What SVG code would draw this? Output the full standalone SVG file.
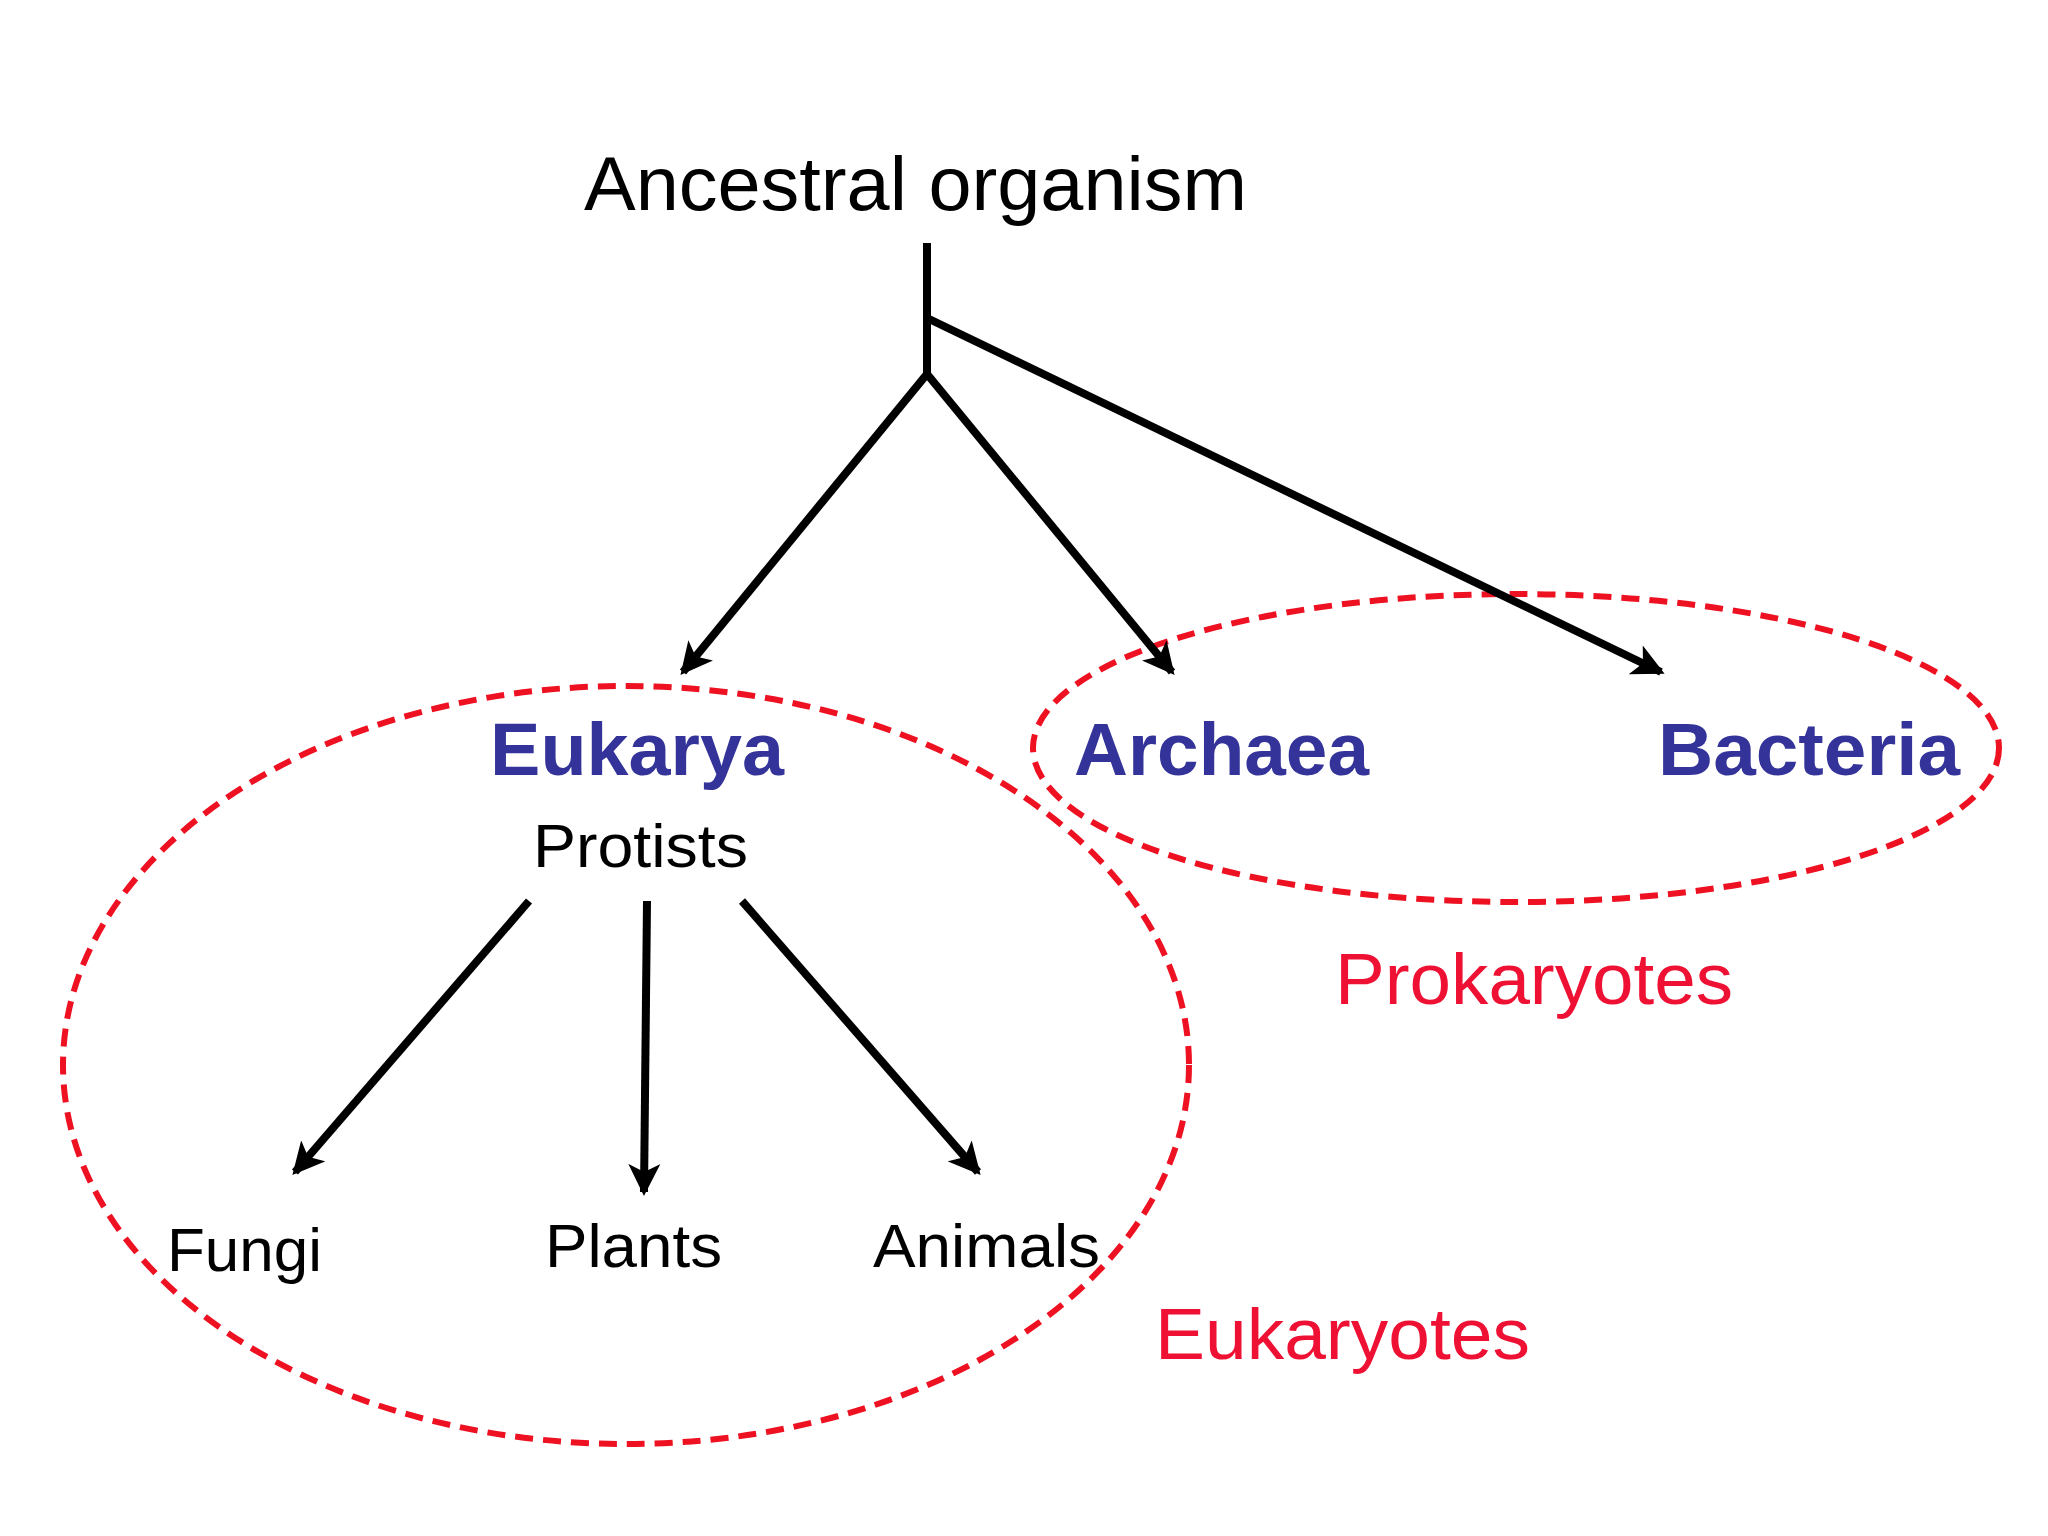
<svg xmlns="http://www.w3.org/2000/svg" width="2048" height="1536" viewBox="0 0 2048 1536">
<style>
text{font-family:"Liberation Sans",Arial,sans-serif}
.n{font-size:62px;fill:#000}
.d{font-size:74px;font-weight:bold;fill:#333399}
.r{font-size:72px;fill:#ee1133}
.c{stroke:#000;stroke-width:8;fill:none}
.e{stroke:#ee1122;stroke-width:6;stroke-dasharray:18 10;fill:none}
</style>
<defs><marker id="a" markerWidth="4" markerHeight="4" refX="3.5" refY="2" orient="auto" markerUnits="strokeWidth"><path d="M0,0 L4,2 L0,4 L1,2 z" fill="#000"/></marker></defs>
<rect width="2048" height="1536" fill="#fff"/>
<g id="groups">
<ellipse class="e" cx="626" cy="1065" rx="563" ry="379"/>
<ellipse class="e" cx="1516" cy="748" rx="483" ry="154"/>
<text class="r" x="1335" y="1004" textLength="398" lengthAdjust="spacingAndGlyphs">Prokaryotes</text>
<text class="r" x="1155" y="1359" textLength="375" lengthAdjust="spacingAndGlyphs">Eukaryotes</text>
</g>
<g id="connectors">
<path class="c" d="M927,243 V374"/>
<path class="c" d="M927,318 L1661,672" marker-end="url(#a)"/>
<path class="c" d="M927,374 L683,672" marker-end="url(#a)"/>
<path class="c" d="M927,374 L1172,672" marker-end="url(#a)"/>
<path class="c" d="M529,901 L295,1172" marker-end="url(#a)"/>
<path class="c" d="M647,901 L644,1192" marker-end="url(#a)"/>
<path class="c" d="M742,901 L978,1172" marker-end="url(#a)"/>
</g>
<g id="ancestral"><text class="n" x="584" y="210" textLength="663" lengthAdjust="spacingAndGlyphs" style="font-size:76px">Ancestral organism</text></g>
<g id="eukarya"><text class="d" x="490" y="775" textLength="294" lengthAdjust="spacingAndGlyphs">Eukarya</text></g>
<g id="archaea"><text class="d" x="1074" y="775" textLength="295" lengthAdjust="spacingAndGlyphs">Archaea</text></g>
<g id="bacteria"><text class="d" x="1658" y="775" textLength="302" lengthAdjust="spacingAndGlyphs">Bacteria</text></g>
<g id="protists"><text class="n" x="533" y="867" textLength="215" lengthAdjust="spacingAndGlyphs">Protists</text></g>
<g id="fungi"><text class="n" x="167" y="1271" textLength="155" lengthAdjust="spacingAndGlyphs">Fungi</text></g>
<g id="plants"><text class="n" x="545" y="1267" textLength="177" lengthAdjust="spacingAndGlyphs">Plants</text></g>
<g id="animals"><text class="n" x="873" y="1267" textLength="227" lengthAdjust="spacingAndGlyphs">Animals</text></g>
</svg>
